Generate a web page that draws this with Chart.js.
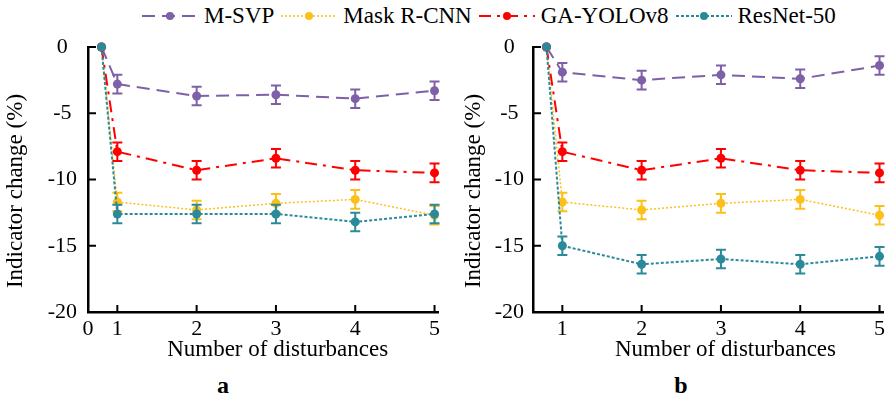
<!DOCTYPE html>
<html>
<head>
<meta charset="utf-8">
<script src="https://cdn.jsdelivr.net/npm/chart.js@4.4.1/dist/chart.umd.min.js"></script>
<style>
  html, body { margin: 0; padding: 0; background: #fff; }
  body { width: 892px; height: 401px; position: relative; overflow: hidden;
         font-family: 'Liberation Serif', 'Times New Roman', serif; color: #000; }
  .panel { position: absolute; top: 0; }
  #panel-a { left: 0; }
  #panel-b { left: 446px; }
  #legend { position: absolute; top: 2px; left: 142px; height: 28px; display: flex;
            align-items: center; font-size: 23px; white-space: nowrap; }
  .item { display: flex; align-items: center; margin-right: 7px; }
  .item canvas { margin-right: 6px; }
  .tag { position: absolute; top: 372px; font-size: 24px; font-weight: bold;
         transform: translateX(-50%); }
</style>
</head>
<body>
<div id="legend"></div>
<canvas id="panel-a" class="panel" width="446" height="372"></canvas>
<canvas id="panel-b" class="panel" width="446" height="372"></canvas>
<div class="tag" style="left:223px">a</div>
<div class="tag" style="left:681px">b</div>

<script>
  'use strict';

  // Series names and x positions (first point is the undisturbed baseline).
  const seriesNames = ['M-SVP', 'Mask R-CNN', 'GA-YOLOv8', 'ResNet-50'];
  const xValues = [0.8, 1, 2, 3, 4, 5];
  const xTicks = [1, 2, 3, 4, 5];
  const yTicks = [-20, -15, -10, -5, 0];

  // Panel a values (%).
  const msvpA = [0, -2.8, -3.7, -3.6, -3.9, -3.3];
  const maskA = [0, -11.7, -12.3, -11.8, -11.5, -12.7];
  const yoloA = [0, -7.9, -9.3, -8.4, -9.3, -9.5];
  const resnetA = [0, -12.6, -12.6, -12.6, -13.2, -12.6];

  // Panel b values (%).
  const msvpB = [0, -1.9, -2.5, -2.1, -2.4, -1.4];
  const maskB = [0, -11.7, -12.3, -11.8, -11.5, -12.7];
  const yoloB = [0, -7.9, -9.3, -8.4, -9.3, -9.5];
  const resnetB = [0, -15.0, -16.4, -16.0, -16.4, -15.8];

  // Error half-widths, same for every series.
  const errors = [0, 0.7, 0.7, 0.7, 0.7, 0.7];

  const styles = [
    { color: '#7d60a8', dash: [13, 7], width: 2 },
    { color: '#fcc01a', dash: [2, 2], width: 1.5 },
    { color: '#ff0000', dash: [12, 6, 3, 6], width: 2 },
    { color: '#2a8a9b', dash: [3, 2], width: 2 },
  ];

  Chart.defaults.font.family = "'Liberation Serif', 'Times New Roman', serif";
  Chart.defaults.font.size = 22;
  Chart.defaults.color = '#000';

  const nbsp = function (n) { return '\u00a0'.repeat(n); };

  // Vertical error bars, drawn under each dataset's points.
  const errorBarPlugin = {
    id: 'errorBars',
    beforeDatasetDraw(chart, args) {
      const ds = chart.data.datasets[args.index];
      if (!ds.errors) {
        return;
      }
      const y = chart.scales.y;
      const ctx = chart.ctx;
      ctx.save();
      ctx.strokeStyle = ds.borderColor;
      ctx.lineWidth = 2;
      ctx.setLineDash([]);
      args.meta.data.forEach(function (pt, i) {
        const e = ds.errors[i];
        if (!e) {
          return;
        }
        const v = ds.data[i].y;
        const top = y.getPixelForValue(v + e);
        const bot = y.getPixelForValue(v - e);
        ctx.beginPath();
        ctx.moveTo(pt.x, top);
        ctx.lineTo(pt.x, bot);
        ctx.moveTo(pt.x - 5, top);
        ctx.lineTo(pt.x + 5, top);
        ctx.moveTo(pt.x - 5, bot);
        ctx.lineTo(pt.x + 5, bot);
        ctx.stroke();
      });
      ctx.restore();
    },
  };

  // Tick marks pointing into the plot area.
  const innerTicksPlugin = {
    id: 'innerTicks',
    afterDraw(chart) {
      const ctx = chart.ctx;
      const a = chart.chartArea;
      const x = chart.scales.x;
      const y = chart.scales.y;
      ctx.save();
      ctx.strokeStyle = '#000';
      ctx.lineWidth = 2;
      ctx.beginPath();
      xTicks.forEach(function (v) {
        const px = x.getPixelForValue(v);
        ctx.moveTo(px, a.bottom);
        ctx.lineTo(px, a.bottom - 7);
      });
      yTicks.forEach(function (v) {
        if (v === -20) {
          return;
        }
        const py = y.getPixelForValue(v);
        ctx.moveTo(a.left, py);
        ctx.lineTo(a.left + 8, py);
      });
      ctx.stroke();
      ctx.restore();
    },
  };

  function makeDatasets(values) {
    return values.map(function (vals, k) {
      const st = styles[k];
      return {
        label: seriesNames[k],
        data: vals.map(function (v, i) { return { x: xValues[i], y: v }; }),
        errors: errors,
        borderColor: st.color,
        backgroundColor: st.color,
        borderWidth: st.width,
        borderDash: st.dash,
        pointRadius: 4.5,
        pointBorderWidth: 0,
        tension: 0,
        clip: false,
        order: 3 - k,
      };
    });
  }

  function makePanel(id, values, opts) {
    const xMin = 0.63;
    new Chart(document.getElementById(id), {
      type: 'line',
      data: { datasets: makeDatasets(values) },
      plugins: [errorBarPlugin, innerTicksPlugin],
      options: {
        responsive: false,
        animation: false,
        devicePixelRatio: 1,
        layout: { padding: { top: 47, left: 0, right: opts.rightPad, bottom: 0 } },
        plugins: { legend: { display: false }, tooltip: { enabled: false } },
        scales: {
          x: {
            type: 'linear',
            min: xMin,
            max: 5.05,
            grid: { display: false, drawTicks: false },
            border: { display: true, color: '#000', width: 2.5 },
            afterBuildTicks: function (s) {
              const vals = opts.zeroLabel ? [xMin].concat(xTicks) : xTicks;
              s.ticks = vals.map(function (v) { return { value: v }; });
            },
            afterFit: function (s) { s.height = 60; },
            ticks: {
              padding: 4,
              maxRotation: 0,
              autoSkip: false,
              callback: function (v) { return v < 1 ? '0' : String(v); },
            },
            title: {
              display: true,
              // leading spaces nudge the title right of the axis centre, as in the source
              text: nbsp(opts.xTitleShift) + 'Number of disturbances',
              font: { size: 23 },
              padding: { top: 0, bottom: 8 },
            },
          },
          y: {
            min: -20,
            max: 0,
            grid: { display: false, drawTicks: false },
            border: { display: true, color: '#000', width: 2.5 },
            afterBuildTicks: function (s) {
              s.ticks = yTicks.map(function (v) { return { value: v }; });
            },
            afterFit: function (s) { s.width = opts.yWidth; },
            ticks: {
              padding: opts.tickPad,
              crossAlign: 'center',
              callback: function (v) { return String(v); },
            },
            title: {
              display: true,
              // trailing spaces push the rotated title a little lower
              text: 'Indicator change (%)' + nbsp(4),
              font: { size: 23 },
              padding: { top: opts.titlePad, bottom: 0 },
            },
          },
        },
      },
    });
  }

  makePanel('panel-a', [msvpA, maskA, yoloA, resnetA],
    { zeroLabel: true, yWidth: 88, rightPad: 7.5, tickPad: 11, titlePad: 2, xTitleShift: 5 });
  makePanel('panel-b', [msvpB, maskB, yoloB, resnetB],
    { zeroLabel: false, yWidth: 87, rightPad: 8.5, tickPad: 9, titlePad: 14, xTitleShift: 6 });

  // Shared legend across both panels.
  const legend = document.getElementById('legend');
  seriesNames.forEach(function (name, k) {
    const st = styles[k];
    const item = document.createElement('div');
    item.className = 'item';
    const c = document.createElement('canvas');
    c.width = 56;
    c.height = 20;
    const ctx = c.getContext('2d');
    ctx.strokeStyle = st.color;
    ctx.fillStyle = st.color;
    ctx.lineWidth = st.width;
    ctx.setLineDash(st.dash);
    ctx.beginPath();
    ctx.moveTo(0, 10);
    ctx.lineTo(56, 10);
    ctx.stroke();
    ctx.beginPath();
    ctx.arc(28, 10, 4, 0, Math.PI * 2);
    ctx.fill();
    const span = document.createElement('span');
    span.textContent = name;
    item.appendChild(c);
    item.appendChild(span);
    legend.appendChild(item);
  });
</script>
</body>
</html>
